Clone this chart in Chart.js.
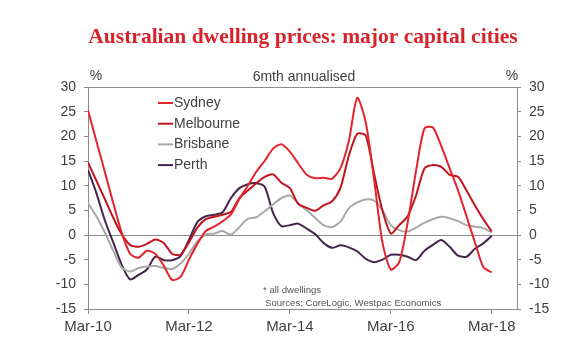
<!DOCTYPE html>
<html>
<head>
<meta charset="utf-8">
<script src="https://cdn.jsdelivr.net/npm/chart.js@4.4.1/dist/chart.umd.min.js"></script>
<style>
  html, body { margin: 0; padding: 0; background: #fff; }
</style>
</head>
<body>
<canvas id="chart" width="580" height="352"></canvas>
<script>
// 6mth annualised dwelling price growth, %, every second month from Mar-10 to Mar-18
const sydney = [25.3, 19.0, 12.8, 6.5, 0.5, -3.8, -4.6, -3.2, -3.8, -6.2, -9.1, -8.5, -5.0, -1.8, 0.8, 1.7,
  2.8, 4.2, 7.3, 10.0, 12.8, 15.0, 17.5, 18.4, 16.9, 14.5, 12.2, 11.5, 11.6, 11.4, 13.5, 19.0,
  27.8, 23.0, 11.4, -1.5, -7.0, -5.5, 2.5, 13.0, 21.6, 21.8, 18.0, 13.5, 9.0, 3.8, -1.5, -6.5, -7.6];
const melbourne = [14.7, 11.0, 7.3, 3.5, 0.2, -2.0, -2.4, -1.8, -0.9, -1.6, -3.8, -4.0, -1.5, 1.5, 3.2, 3.7,
  4.1, 4.7, 7.5, 9.0, 10.5, 11.8, 12.3, 10.6, 9.5, 6.3, 5.5, 4.9, 6.0, 6.8, 9.5, 16.0,
  20.5, 20.2, 12.5, 5.0, 0.3, 2.0, 3.8, 8.0, 13.5, 14.2, 13.8, 12.2, 11.8, 9.0, 6.0, 3.2, 0.7];
const brisbane = [6.5, 3.8, 0.5, -3.2, -6.6, -7.4, -6.7, -6.4, -6.3, -6.7, -6.9, -5.8, -3.8, -1.3, 0.1, 0.3,
  0.8, 0.1, 1.6, 3.3, 3.6, 4.8, 6.2, 7.5, 8.0, 6.4, 5.0, 3.5, 2.0, 1.6, 2.7, 5.4,
  6.6, 7.2, 7.0, 5.0, 2.0, 1.0, 0.7, 1.5, 2.5, 3.2, 3.7, 3.4, 2.8, 2.0, 1.7, 1.4, 0.5];
const perth = [13.2, 8.5, 3.0, -1.5, -6.0, -9.0, -8.1, -7.0, -4.4, -5.1, -5.1, -4.3, -1.0, 2.6, 3.8, 4.1,
  4.6, 7.5, 9.5, 10.3, 10.5, 9.8, 4.5, 1.8, 2.0, 2.3, 1.3, 0.2, -1.6, -2.6, -2.1, -2.5,
  -3.3, -4.8, -5.5, -5.0, -4.0, -4.0, -4.4, -5.1, -3.2, -2.0, -1.0, -2.4, -4.2, -4.4, -2.8, -1.7, -0.2];

const tickMonths = [0, 24, 48, 72, 96];   // months after Mar-10
const tickLabels = ['Mar-10', 'Mar-12', 'Mar-14', 'Mar-16', 'Mar-18'];
const yTicks = [-15, -10, -5, 0, 5, 10, 15, 20, 25, 30];

const months = sydney.map((v, i) => i * 2);
const pts = arr => arr.map((v, i) => ({ x: months[i], y: v }));

const textColor = '#404040';
const axisColor = '#8c8c8c';
const font = 'Liberation Sans, Arial, sans-serif';

const series = [
  { label: 'Sydney', data: sydney, color: '#e2252c' },
  { label: 'Melbourne', data: melbourne, color: '#c0141f' },
  { label: 'Brisbane', data: brisbane, color: '#a8a8a8' },
  { label: 'Perth', data: perth, color: '#44264a' },
];

const extras = {
  id: 'extras',
  afterDraw(chart) {
    const { ctx, chartArea: a } = chart;
    ctx.save();
    ctx.strokeStyle = axisColor;
    ctx.lineWidth = 1;
    ctx.beginPath();
    ctx.moveTo(a.left, a.top + 0.5);
    ctx.lineTo(a.right, a.top + 0.5);
    ctx.stroke();

    ctx.textBaseline = 'middle';
    ctx.textAlign = 'center';
    ctx.fillStyle = '#d7232b';
    ctx.font = 'bold 21.5px "Liberation Serif", "Times New Roman", serif';
    ctx.fillText('Australian dwelling prices: major capital cities', 303, 37);

    ctx.fillStyle = textColor;
    ctx.font = '14px ' + font;
    ctx.fillText('6mth annualised', 304, 77);
    ctx.fillText('%', 96, 76);
    ctx.fillText('%', 512, 76);

    // legend
    ctx.textAlign = 'left';
    series.forEach((s, i) => {
      const y = 103 + i * 20.7;
      ctx.strokeStyle = s.color;
      ctx.lineWidth = 2;
      ctx.beginPath();
      ctx.moveTo(158, y);
      ctx.lineTo(173, y);
      ctx.stroke();
      ctx.fillStyle = textColor;
      ctx.fillText(s.label, 174, y);
    });

    ctx.fillStyle = '#555';
    ctx.font = '9.6px ' + font;
    ctx.fillText('* all dwellings', 263, 290);
    ctx.fillText('Sources: CoreLogic, Westpac Economics', 265, 303);
    ctx.restore();
  }
};

const yScale = (position, width) => ({
  type: 'linear',
  position,
  min: -15,
  max: 30,
  afterBuildTicks: s => { s.ticks = yTicks.map(v => ({ value: v })); },
  afterFit: s => { s.width = width; },
  ticks: { color: textColor, font: { family: font, size: 14 }, padding: 8 },
  border: { display: true, color: axisColor },
  grid: {
    drawOnChartArea: position === 'left',
    color: c => (c.tick && c.tick.value === 0 ? axisColor : 'rgba(0,0,0,0)'),
    tickColor: axisColor,
    tickLength: 4,
  },
});

new Chart(document.getElementById('chart'), {
  type: 'line',
  data: {
    datasets: series.map(s => ({
      label: s.label,
      data: pts(s.data),
      borderColor: s.color,
      backgroundColor: s.color,
      borderWidth: 2,
      pointRadius: 0,
      tension: 0.25,
      fill: false,
    })),
  },
  options: {
    responsive: false,
    animation: false,
    devicePixelRatio: 1,
    layout: { padding: { top: 87, left: 0, right: 0, bottom: 0 } },
    plugins: { legend: { display: false }, tooltip: { enabled: false } },
    scales: {
      x: {
        type: 'linear',
        min: 0,
        max: 102,
        afterBuildTicks: s => { s.ticks = tickMonths.map(v => ({ value: v })); },
        afterFit: s => { s.height = 43; },
        ticks: {
          color: textColor,
          font: { family: font, size: 15 },
          padding: 4,
          maxRotation: 0,
          callback: v => tickLabels[tickMonths.indexOf(v)],
        },
        border: { display: true, color: axisColor },
        grid: { drawOnChartArea: false, tickColor: axisColor, tickLength: 5 },
      },
      y: yScale('left', 88),
      y2: yScale('right', 63),
    },
  },
  plugins: [extras],
});
</script>
</body>
</html>
